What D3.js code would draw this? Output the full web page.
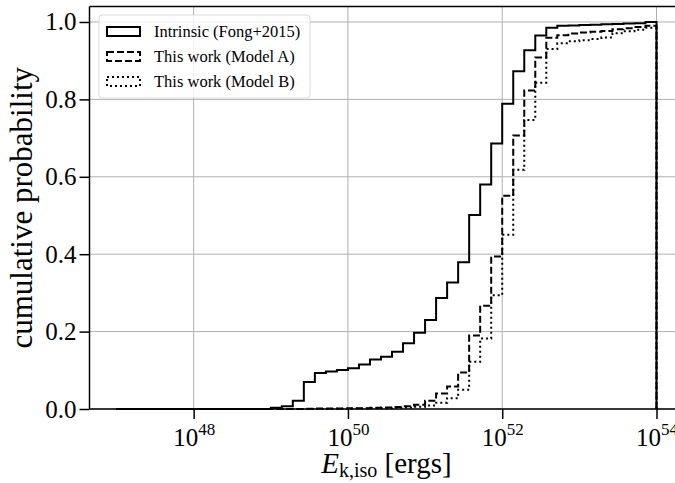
<!DOCTYPE html>
<html>
<head>
<meta charset="utf-8">
<script src="https://cdn.jsdelivr.net/npm/d3@7"></script>
<style>
  body { margin: 0; background: #fff; }
  text { font-family: "Liberation Serif", "DejaVu Serif", serif; fill: #000; }
  .grid line { stroke: #b0b0b0; stroke-width: 1; }
</style>
</head>
<body>
<div id="chart"></div>
<script>
// Histogram bins: log10(E) from 47 to 54, 49 equal bins
const binLo = 47, binHi = 54, nBins = 49;

// Cumulative probability per bin
const intrinsic = [
  0, 0, 0, 0, 0, 0, 0, 0, 0, 0, 0, 0, 0, 0,
  0.003, 0.007, 0.021, 0.070, 0.093, 0.097, 0.101, 0.105, 0.115, 0.128,
  0.135, 0.148, 0.170, 0.197, 0.230, 0.287, 0.327, 0.379, 0.501, 0.580,
  0.686, 0.789, 0.873, 0.927, 0.965, 0.985, 0.990, 0.991, 0.992, 0.993,
  0.994, 0.995, 0.996, 0.997, 1.0
];
const modelA = [
  0, 0, 0, 0, 0, 0, 0, 0, 0, 0, 0, 0, 0, 0, 0, 0, 0,
  0.0005, 0.001, 0.001, 0.001, 0.002, 0.002, 0.003, 0.004, 0.005, 0.007,
  0.011, 0.021, 0.040, 0.058, 0.094, 0.190, 0.267, 0.394, 0.551, 0.707,
  0.823, 0.908, 0.959, 0.966, 0.970, 0.973, 0.975, 0.977, 0.981, 0.984,
  0.987, 0.990
];
const modelB = [
  0, 0, 0, 0, 0, 0, 0, 0, 0, 0, 0, 0, 0, 0, 0, 0, 0, 0, 0, 0,
  0.0005, 0.001, 0.001, 0.002, 0.002, 0.003, 0.004, 0.006, 0.009, 0.016,
  0.028, 0.050, 0.122, 0.182, 0.294, 0.450, 0.618, 0.747, 0.843, 0.930,
  0.945, 0.950, 0.953, 0.956, 0.960, 0.971, 0.976, 0.980, 0.985
];

const seriesNames = ["Intrinsic (Fong+2015)", "This work (Model A)", "This work (Model B)"];
const yTicks = [0, 0.2, 0.4, 0.6, 0.8, 1.0];
const xTickExps = [48, 50, 52, 54];

// Layout
const W = 675, H = 483;
const x0 = 89.5, x1 = 683.5, yTop = 6.5, yBot = 409;

const svg = d3.select("#chart").append("svg")
    .attr("width", W)
    .attr("height", H);

const x = d3.scaleLog()
    .domain([Math.pow(10, 46.65), Math.pow(10, 54.35)])
    .range([x0, x1]);
const y = d3.scaleLinear()
    .domain([0, 1.04])
    .range([yBot, yTop]);

// bin edges
const edges = d3.range(nBins + 1).map(i => Math.pow(10, binLo + i * (binHi - binLo) / nBins));

// Grid
const grid = svg.append("g").attr("class", "grid");
grid.selectAll(".gy").data(yTicks).enter().append("line")
    .attr("x1", x0).attr("x2", x1)
    .attr("y1", d => y(d)).attr("y2", d => y(d));
grid.selectAll(".gx").data(xTickExps).enter().append("line")
    .attr("x1", d => x(Math.pow(10, d))).attr("x2", d => x(Math.pow(10, d)))
    .attr("y1", yTop).attr("y2", yBot);

// Step lines
const line = d3.line().x(d => d[0]).y(d => d[1]);
function stepPoints(vals) {
    const pts = [[x(edges[0]), y(0)]];
    vals.forEach((v, i) => {
        pts.push([x(edges[i]), y(v)]);
        pts.push([x(edges[i + 1]), y(v)]);
    });
    pts.push([x(edges[nBins]), y(0)]);
    return pts;
}
const styles = [
    { data: intrinsic, dash: null },
    { data: modelA, dash: "7,3" },
    { data: modelB, dash: "2,3" }
];
styles.forEach(s => {
    svg.append("path")
        .attr("d", line(stepPoints(s.data)))
        .attr("fill", "none")
        .attr("stroke", "#000")
        .attr("stroke-width", 2)
        .attr("stroke-dasharray", s.dash);
});

// Axes
const yAxis = svg.append("g")
    .attr("transform", `translate(${x0},0)`)
    .call(d3.axisLeft(y).tickValues(yTicks).tickFormat(d3.format(".1f")).tickSize(10).tickPadding(3));
yAxis.selectAll("text").style("font-size", "25px");

const xAxis = svg.append("g")
    .attr("transform", `translate(0,${yBot})`)
    .call(d3.axisBottom(x).tickValues(xTickExps.map(e => Math.pow(10, e))).tickFormat("").tickSize(10));

xAxis.selectAll(".tick").append("text")
    .attr("y", 37)
    .attr("text-anchor", "middle")
    .style("font-size", "25px")
    .each(function(d) {
        const t = d3.select(this);
        t.append("tspan").text("10");
        t.append("tspan").attr("dy", -11).style("font-size", "17px").text(Math.round(Math.log10(d)));
    });

[yAxis, xAxis].forEach(a => {
    a.select(".domain").remove();
    a.selectAll(".tick line").attr("stroke", "#000").attr("stroke-width", 1.5);
});

// Spines
svg.append("line").attr("x1", x0).attr("x2", x0).attr("y1", yTop).attr("y2", yBot)
    .attr("stroke", "#000").attr("stroke-width", 1.5);
svg.append("line").attr("x1", x0).attr("x2", x1).attr("y1", yBot).attr("y2", yBot)
    .attr("stroke", "#000").attr("stroke-width", 1.5);
svg.append("line").attr("x1", x0).attr("x2", x1).attr("y1", yTop).attr("y2", yTop)
    .attr("stroke", "#000").attr("stroke-width", 1.5);

// Axis labels
svg.append("text")
    .attr("transform", `translate(32,${(yTop + yBot) / 2}) rotate(-90)`)
    .attr("text-anchor", "middle")
    .style("font-size", "31px")
    .text("cumulative probability");

const xl = svg.append("text")
    .attr("x", (x0 + x1) / 2)
    .attr("y", 473)
    .attr("text-anchor", "middle")
    .style("font-size", "29px");
xl.append("tspan").style("font-style", "italic").text("E");
xl.append("tspan").attr("dy", 4).style("font-size", "20px").text("k,iso");
xl.append("tspan").attr("dy", -4).text(" [ergs]");

// Legend
const legend = svg.append("g").attr("transform", "translate(99,15)");
legend.append("rect")
    .attr("width", 211).attr("height", 83)
    .attr("rx", 3)
    .attr("fill", "#fff").attr("fill-opacity", 0.8)
    .attr("stroke", "#d9d9d9").attr("stroke-width", 1);

const items = legend.selectAll(".item")
    .data(seriesNames)
    .enter().append("g")
    .attr("transform", (d, i) => `translate(8,${12 + i * 25})`);
items.append("rect")
    .attr("width", 33).attr("height", 9)
    .attr("fill", "none").attr("stroke", "#000").attr("stroke-width", 2)
    .attr("stroke-dasharray", (d, i) => styles[i].dash);
items.append("text")
    .attr("x", 47).attr("y", 10)
    .style("font-size", "16.5px")
    .text(d => d);
</script>
</body>
</html>
